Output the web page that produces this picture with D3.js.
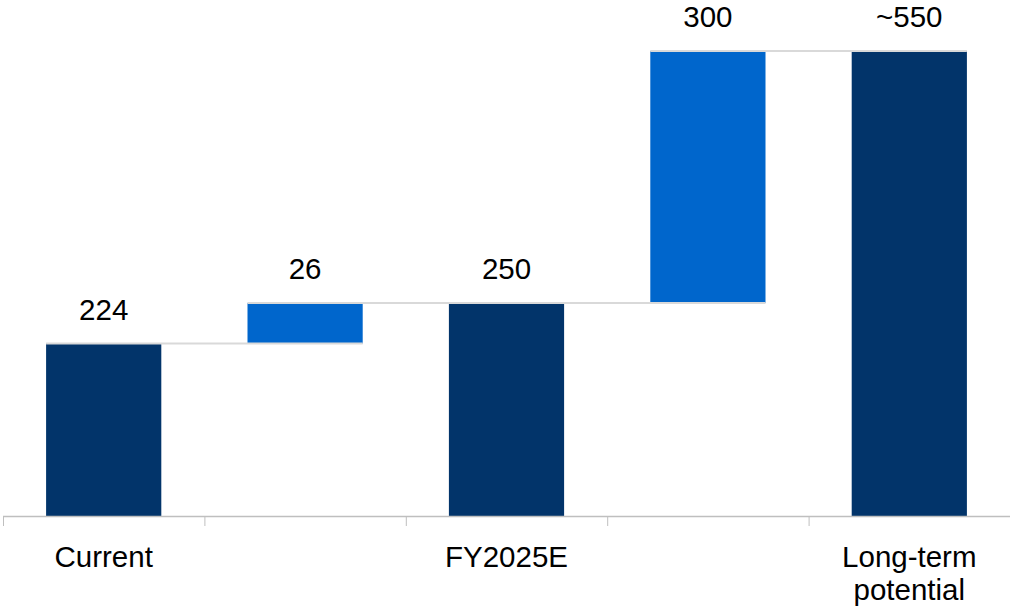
<!DOCTYPE html>
<html><head><meta charset="utf-8">
<script src="https://cdn.jsdelivr.net/npm/d3@7"></script>
<style>html,body{margin:0;padding:0;background:#fff}svg{display:block}</style>
</head><body>
<svg id="c" width="1010" height="607"></svg>
<script>
// Data
const categories = ["Current", "", "FY2025E", "", "Long-term potential"];
const kinds = ["total", "delta", "total", "delta", "total"];
// bar extents as drawn in the picture (value units)
const barStarts = [0, 204, 0, 252, 0];
const barEnds = [204, 252, 252, 550, 550];
const valueLabels = ["224", "26", "250", "300", "~550"];
const categoryLines = [["Current"], [""], ["FY2025E"], [""], ["Long-term", "potential"]];

const svg = d3.select("#c");
const W = 1010, H = 607;
const colors = {total: "#02346A", delta: "#0066CC"};
const font = "'Liberation Sans', Arial, sans-serif";

const x = d3.scaleBand().domain(d3.range(categories.length)).range([3, 1010]).paddingInner(0.428).paddingOuter(0.214);
const xTicks = d3.scaleBand().domain(d3.range(categories.length)).range([3, 1010]).padding(0);
const y = d3.scaleLinear().domain([0, 550]).range([516, 51]);

// bars
svg.selectAll("rect.bar").data(categories).enter().append("rect")
  .attr("x", (d, i) => x(i))
  .attr("width", x.bandwidth())
  .attr("y", (d, i) => y(Math.max(barStarts[i], barEnds[i])))
  .attr("height", (d, i) => Math.abs(y(barStarts[i]) - y(barEnds[i])))
  .attr("fill", (d, i) => colors[kinds[i]]);

// connectors
const conn = d3.range(categories.length - 1);
svg.selectAll("line.conn").data(conn).enter().append("line")
  .attr("x1", i => x(i))
  .attr("x2", i => x(i + 1) + x.bandwidth())
  .attr("y1", i => y(barEnds[i]))
  .attr("y2", i => y(barEnds[i]))
  .attr("stroke", "#d9d9d9").attr("stroke-width", 2);

// axis
const axisG = svg.append("g");
axisG.append("line").attr("x1", 3).attr("x2", 1010).attr("y1", 516.5).attr("y2", 516.5)
  .attr("stroke", "#bfbfbf").attr("stroke-width", 1.5);
const tickPos = d3.range(categories.length + 1).map(i => i < categories.length ? xTicks(i) : 1010);
axisG.selectAll("line.tick").data(tickPos).enter().append("line")
  .attr("x1", d => d + 0.5).attr("x2", d => d + 0.5).attr("y1", 516).attr("y2", 526)
  .attr("stroke", "#bfbfbf").attr("stroke-width", 1);

// category labels
categoryLines.forEach((lines, i) => {
  lines.forEach((t, j) => {
    svg.append("text").attr("x", x(i) + x.bandwidth() / 2).attr("y", 567 + j * 33)
      .attr("text-anchor", "middle").attr("font-family", font).attr("font-size", 29.5)
      .attr("fill", "#000").text(t);
  });
});

// value labels
svg.selectAll("text.val").data(valueLabels).enter().append("text")
  .attr("x", (d, i) => x(i) + x.bandwidth() / 2)
  .attr("y", (d, i) => y(Math.max(barStarts[i], barEnds[i])) - 24)
  .attr("text-anchor", "middle").attr("font-family", font).attr("font-size", 29.5)
  .attr("fill", "#000").text(d => d);
</script>
</body></html>
